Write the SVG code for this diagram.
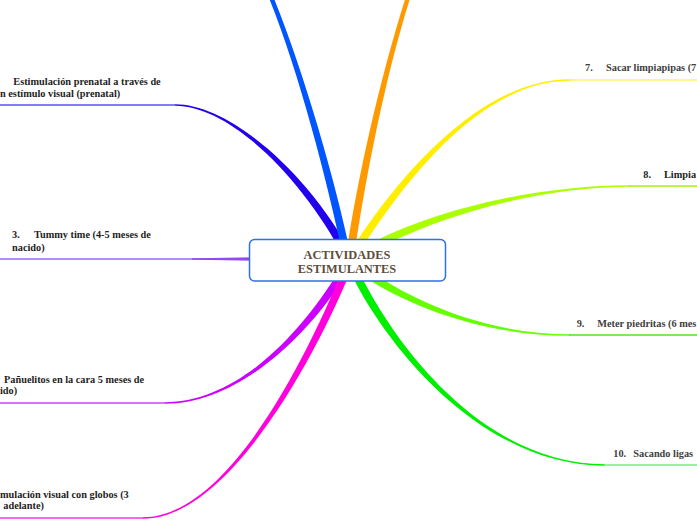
<svg xmlns="http://www.w3.org/2000/svg" width="697" height="520" viewBox="0 0 697 520">
<style>
.t{font-family:"Liberation Serif","Times New Roman",serif;font-weight:bold;font-size:10.3px;fill:#1e1e1e}
.r{fill:#3e3e3e}
.c{font-family:"Liberation Serif","Times New Roman",serif;font-weight:bold;font-size:12.4px;fill:#5c4e3c;text-anchor:middle}
.u{fill:none;stroke-width:1.5}
</style>
<rect width="697" height="520" fill="#ffffff"/>
<g id="connectors">
<path fill="#2200ee" d="M351.5,254.1 C308.5,173.1 230,104.25 175,104.25 L175,105.75 C230,105.75 301.5,176.9 344.5,257.9 Z"/>
<path fill="#0055ff" d="M350.9,255.2 C333.9,174.2 300,59.1 268,-15.9 L264,-14.1 C296,60.9 326.1,175.8 343.1,256.8 Z"/>
<path fill="#ff9900" d="M353.96,256.59 C365.96,175.59 386.09,70.69 414.09,-14.31 L409.91,-15.69 C381.91,69.31 358.04,174.41 346.04,255.41 Z"/>
<path fill="#ffee00" d="M355.38,258.14 C403.38,182.14 480,80.75 570,80.75 L570,79.25 C480,79.25 396.62,177.86 348.62,253.86 Z"/>
<path fill="#aaff00" d="M354.03,261.44 C432.03,215.44 540,186.75 630,186.75 L630,185.25 C540,185.25 427.97,208.56 349.97,254.56 Z"/>
<path fill="#66ff00" d="M347.58,265.18 C397.58,303.18 480,335.75 570,335.75 L570,334.25 C480,334.25 402.42,296.82 352.42,258.82 Z"/>
<path fill="#00ee00" d="M346.35,263.64 C381.35,341.64 480,465.75 605,465.75 L605,464.25 C480,464.25 388.65,338.36 353.65,260.36 Z"/>
<path fill="#cc00ff" d="M345.53,260.01 C306.53,328.01 240,402.25 165,402.25 L165,403.75 C240,403.75 313.47,331.99 352.47,263.99 Z"/>
<path fill="#ff00dd" d="M346.28,260.52 C311.28,348.52 230,517.25 143,517.25 L143,518.75 C230,518.75 318.72,351.48 353.72,263.48 Z"/>
<path fill="#7a00ee" d="M192,258.3 L250,257.4 L250,260.6 L192,259.7 Z"/>
</g>
<g id="n1">
<line class="u" x1="0" y1="105" x2="176" y2="105" stroke="#5a50f0"/>
<text class="t" x="13.3" y="85">Estimulación prenatal a través de</text>
<text class="t" x="0" y="96.7">n estímulo visual (prenatal)</text>
</g>
<g id="n3">
<line class="u" x1="0" y1="259" x2="250" y2="259" stroke="#9666f0"/>
<text class="t" y="238.3"><tspan x="12">3.</tspan><tspan x="34">Tummy time (4-5 meses de</tspan></text>
<text class="t" x="12" y="251">nacido)</text>
</g>
<g id="n4">
<line class="u" x1="0" y1="403" x2="166" y2="403" stroke="#cc44ff"/>
<text class="t" x="4" y="382.7">Pañuelitos en la cara 5 meses de</text>
<text class="t" x="0" y="394.3">ido)</text>
</g>
<g id="n5">
<line class="u" x1="0" y1="518" x2="144" y2="518" stroke="#ff33e6"/>
<text class="t" x="0" y="497.7">mulación visual con globos (3</text>
<text class="t" x="3.3" y="509.3">adelante)</text>
</g>
<g id="n7">
<line class="u" x1="569" y1="80" x2="697" y2="80" stroke="#fff06a"/>
<text class="t r" y="70.7"><tspan x="585">7.</tspan><tspan x="606">Sacar limpiapipas (7</tspan></text>
</g>
<g id="n8">
<line class="u" x1="629" y1="186" x2="697" y2="186" stroke="#aaee11"/>
<text class="t" y="177.7"><tspan x="643.3">8.</tspan><tspan x="664">Limpia</tspan></text>
</g>
<g id="n9">
<line class="u" x1="569" y1="335" x2="697" y2="335" stroke="#5ddd2a"/>
<text class="t r" y="326.7"><tspan x="576.7">9.</tspan><tspan x="597.3">Meter piedritas (6 mes</tspan></text>
</g>
<g id="n10">
<line class="u" x1="604" y1="465" x2="697" y2="465" stroke="#77ee77"/>
<text class="t r" y="456.7"><tspan x="613.3">10.</tspan><tspan x="633.3">Sacando ligas</tspan></text>
</g>
<g id="center">
<rect x="249.5" y="239.5" width="196" height="41.5" rx="5" fill="#ffffff" stroke="#2f6fe8" stroke-width="1.5"/>
<text class="c" x="347" y="258.5">ACTIVIDADES</text>
<text class="c" x="347" y="272.5">ESTIMULANTES</text>
</g>
</svg>
